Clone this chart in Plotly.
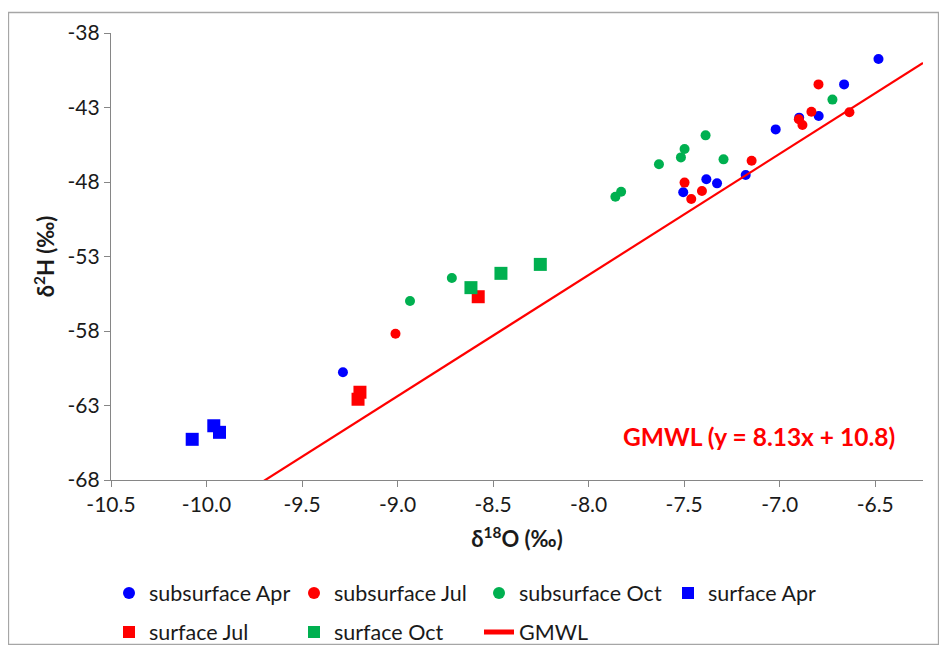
import numpy as np
import plotly.graph_objects as go

# ---- data ----
sub_apr_x = [-9.286, -7.505, -7.384, -7.328, -7.178, -7.021, -6.898, -6.796, -6.663, -6.483]
sub_apr_y = [-60.77, -48.69, -47.82, -48.09, -47.53, -44.47, -43.68, -43.57, -41.45, -39.74]

sub_jul_x = [-9.011, -7.498, -7.463, -7.407, -7.147, -6.900, -6.881, -6.834, -6.797, -6.635]
sub_jul_y = [-58.18, -48.04, -49.14, -48.60, -46.57, -43.79, -44.17, -43.28, -41.45, -43.32]

sub_oct_x = [-8.935, -8.716, -7.860, -7.830, -7.632, -7.517, -7.498, -7.388, -7.294, -6.724]
sub_oct_y = [-55.99, -54.44, -48.99, -48.65, -46.81, -46.35, -45.79, -44.87, -46.48, -42.47]

surf_apr_x = [-10.075, -9.962, -9.932]
surf_apr_y = [-65.27, -64.36, -64.80]

surf_jul_x = [-9.197, -9.207, -8.578]
surf_jul_y = [-62.11, -62.58, -55.70]

surf_oct_x = [-8.616, -8.459, -8.253]
surf_oct_y = [-55.09, -54.13, -53.53]

gmwl_slope = 8.13
gmwl_intercept = 10.8
gmwl_x = np.array([-10.5, -6.25])
gmwl_y = gmwl_slope * gmwl_x + gmwl_intercept

x_tickvals = [-10.5, -10.0, -9.5, -9.0, -8.5, -8.0, -7.5, -7.0, -6.5]
x_ticktext = ["-10.5", "-10.0", "-9.5", "-9.0", "-8.5", "-8.0", "-7.5", "-7.0", "-6.5"]
y_tickvals = [-68, -63, -58, -53, -48, -43, -38]
y_ticktext = ["-68", "-63", "-58", "-53", "-48", "-43", "-38"]

BLUE = "#0000FF"
RED = "#FF0000"
GREEN = "#00B050"
FONT = "Lato"
TXT = "#1a1a1a"

fig = go.Figure()

def pts(x, y, name, color, symbol, size, legend):
    fig.add_trace(go.Scatter(
        x=x, y=y, mode="markers", name=name,
        marker=dict(color=color, symbol=symbol, size=size, line=dict(width=0)),
        legend=legend,
    ))

pts(sub_apr_x, sub_apr_y, "subsurface Apr", BLUE, "circle", 10, "legend")
pts(sub_jul_x, sub_jul_y, "subsurface Jul", RED, "circle", 10, "legend2")
pts(sub_oct_x, sub_oct_y, "subsurface Oct", GREEN, "circle", 10, "legend3")
pts(surf_apr_x, surf_apr_y, "surface Apr", BLUE, "square", 13, "legend4")
pts(surf_jul_x, surf_jul_y, "surface Jul", RED, "square", 13, "legend5")
pts(surf_oct_x, surf_oct_y, "surface Oct", GREEN, "square", 13, "legend6")

fig.add_trace(go.Scatter(
    x=gmwl_x, y=gmwl_y, mode="lines", name="GMWL",
    line=dict(color=RED, width=2.2), legend="legend7",
))

# The page body has an 8px margin: figure pixel = screenshot pixel - 8
OFF = 8
W, H = 931, 637
L, T = 111 - OFF, 33 - OFF
R = W - (923 - OFF)
B = H - (480 - OFF)
pw, ph = W - L - R, H - T - B

def px_x(px):  # px in screenshot coordinates
    return (px - OFF - L) / pw

def px_y(py):
    return (H - B - (py - OFF)) / ph

leg_font = dict(family=FONT, size=21.5, color=TXT)

def leg(text_x, my, off=40):
    return dict(x=px_x(text_x - off), y=px_y(my), xanchor="left", yanchor="middle",
                bgcolor="rgba(0,0,0,0)", borderwidth=0, font=leg_font,
                itemsizing="constant", tracegroupgap=0)

axis_common = dict(
    showline=True, linecolor="#868686", linewidth=1.3,
    ticks="outside", ticklen=6, tickcolor="#868686", tickwidth=1.3,
    showgrid=False, zeroline=False, mirror=False, automargin=False,
    tickfont=dict(family=FONT, size=21, color=TXT),
)

fig.update_layout(
    width=W, height=H,
    margin=dict(l=L, r=R, t=T, b=B, autoexpand=False),
    paper_bgcolor="white", plot_bgcolor="white",
    xaxis=dict(range=[-10.5, -6.25], tickvals=x_tickvals, ticktext=x_ticktext,
               title=dict(text="<b>δ<sup>18</sup>O (‰)</b>", font=dict(family=FONT, size=22, color=TXT), standoff=16),
               **axis_common),
    yaxis=dict(range=[-68, -38], tickvals=y_tickvals, ticktext=y_ticktext,
               title=dict(text="<b>δ<sup>2</sup>H (‰)</b>", font=dict(family=FONT, size=22, color=TXT), standoff=6),
               **axis_common),
    legend=leg(149, 593),
    legend2=leg(334, 593),
    legend3=leg(519, 593),
    legend4=leg(708, 593),
    legend5=leg(149, 632),
    legend6=leg(334, 632),
    legend7=leg(521, 632, off=42),
    showlegend=True,
)

fig.add_annotation(
    x=-7.107, y=-65.05, xref="x", yref="y",
    text="<b>GMWL (y = 8.13x + 10.8)</b>", showarrow=False,
    font=dict(family=FONT, size=24.5, color=RED),
)

# chart outer border
fig.add_shape(type="rect", xref="paper", yref="paper",
              x0=px_x(8.5), x1=px_x(938.5), y0=px_y(644.5), y1=px_y(12.5),
              line=dict(color="#A6A6A6", width=1.3), fillcolor="rgba(0,0,0,0)",
              layer="below")

fig.write_html("out.html")
